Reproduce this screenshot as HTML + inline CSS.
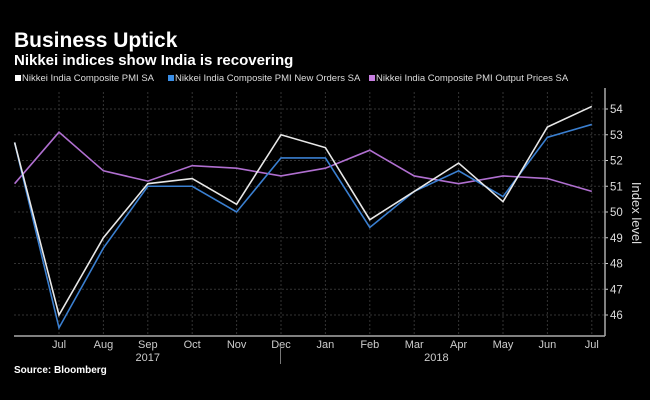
<!DOCTYPE html>
<html><head><meta charset="utf-8"><style>
body{margin:0;background:#000;width:650px;height:400px;overflow:hidden;font-family:"Liberation Sans",sans-serif;}
</style></head><body>
<svg width="650" height="400" id="c" style="position:absolute;left:0;top:0">
<text x="14" y="47" fill="#fff" font-size="21" font-weight="bold">Business Uptick</text>
<text x="14" y="65" fill="#fff" font-size="15" font-weight="bold">Nikkei indices show India is recovering</text>
<g font-size="9.5" fill="#ddd">
<rect x="15" y="75" width="6" height="6" fill="#fff"/>
<text x="22" y="81">Nikkei India Composite PMI SA</text>
<rect x="168" y="75" width="6" height="6" fill="#3a8ee6"/>
<text x="175" y="81">Nikkei India Composite PMI New Orders SA</text>
<rect x="369" y="75" width="6" height="6" fill="#c77ee0"/>
<text x="376" y="81">Nikkei India Composite PMI Output Prices SA</text>
</g>
<text x="14" y="373" fill="#fff" font-size="10" font-weight="bold">Source: Bloomberg</text>
<text transform="translate(632,213) rotate(90)" text-anchor="middle" fill="#ddd" font-size="13">Index level</text>
</svg>
<script>
const months=["Jun","Jul","Aug","Sep","Oct","Nov","Dec","Jan","Feb","Mar","Apr","May","Jun","Jul"];
const composite=[52.7,46.0,49.0,51.1,51.3,50.3,53.0,52.5,49.7,50.8,51.9,50.4,53.3,54.1];
const newOrders=[52.7,45.5,48.6,51.0,51.0,50.0,52.1,52.1,49.4,50.8,51.6,50.6,52.9,53.4];
const outputPrices=[51.1,53.1,51.6,51.2,51.8,51.7,51.4,51.7,52.4,51.4,51.1,51.4,51.3,50.8];
const yTicks=[46,47,48,49,50,51,52,53,54];
const years=[{label:"2017",i:3},{label:"2018",i:9.5}];
const svg=document.getElementById('c');const NS="http://www.w3.org/2000/svg";
const X=i=>14.6+i*44.4;const Y=v=>109+(54-v)*25.75;
function mk(t,a,p){const e=document.createElementNS(NS,t);for(const k in a)e.setAttribute(k,a[k]);(p||svg).appendChild(e);return e;}
const grid=mk('g',{});


yTicks.forEach(v=>{mk('line',{x1:14,x2:605,y1:Y(v),y2:Y(v),stroke:'#333','stroke-width':1,'stroke-dasharray':'2,2'},grid);
const t=mk('text',{x:610,y:Y(v)+4,fill:'#ddd','font-size':11.5});t.textContent=v;


mk('line',{x1:605,x2:608,y1:Y(v),y2:Y(v),stroke:'#ccc'});});
months.forEach((m,i)=>{if(i==0)return;mk('line',{x1:X(i),x2:X(i),y1:92,y2:336,stroke:'#333','stroke-dasharray':'2,2'},grid);
const t=mk('text',{x:X(i),y:348,fill:'#ccc','font-size':11,'text-anchor':'middle'});t.textContent=m;

});
years.forEach(y=>{const t=mk('text',{x:X(y.i),y:361,fill:'#ccc','font-size':11,'text-anchor':'middle'});t.textContent=y.label;

});
mk('line',{x1:X(6)-0.5,x2:X(6)-0.5,y1:346,y2:364,stroke:'#777'});
mk('line',{x1:14,x2:605,y1:336,y2:336,stroke:'#aaa','stroke-width':1.5});
mk('line',{x1:605,x2:605,y1:88,y2:336,stroke:'#aaa','stroke-width':1.5});
function line(d,c,n){const p=mk('polyline',{points:d.map((v,i)=>X(i)+','+Y(v)).join(' '),fill:'none',stroke:c,'stroke-width':1.6});

}
line(outputPrices,'#b06fd0','series-output-prices');
line(newOrders,'#3a7fd0','series-new-orders');
line(composite,'#e8e8e8','series-composite');
</script>
</body></html>
